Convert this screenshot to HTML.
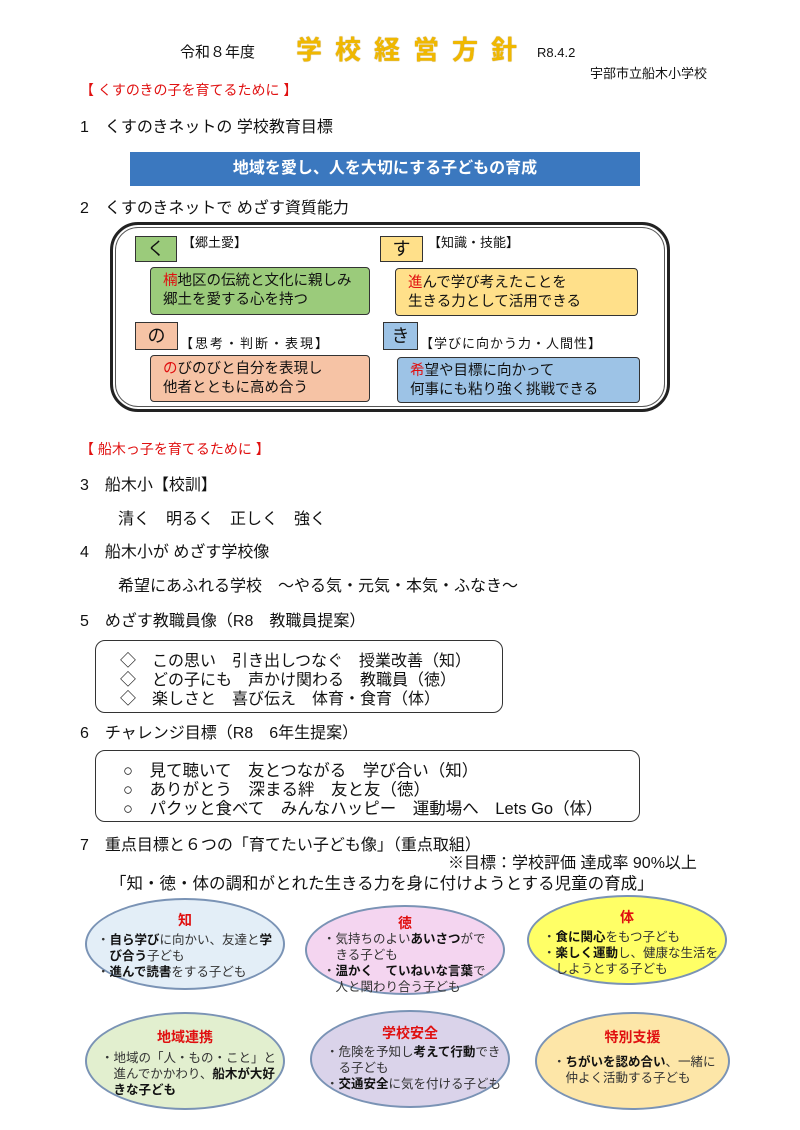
<!DOCTYPE html>
<html><head><meta charset="utf-8"><style>
body{margin:0;width:800px;height:1130px;background:#fff;position:relative;overflow:hidden;font-family:"Liberation Sans","Noto Sans CJK JP",sans-serif;color:#111}
.t{position:absolute;white-space:nowrap;line-height:1}
.h{font-size:16px}
.red{color:#e01010}
.box{position:absolute;box-sizing:border-box;border:1.5px solid #333}
.ell{position:absolute;box-sizing:border-box;border-radius:50%;border:2px solid #7a93b5}
.ell .tt{position:absolute;left:0;right:0;text-align:center;color:#e01010;font-weight:bold;font-size:14px}
.ell .bd{position:absolute;font-size:12.5px;line-height:16px;color:#333;white-space:nowrap}
b{color:#111}
</style></head><body>
<div class="t" style="left:180px;top:45px;font-size:15px">令和８年度</div>
<div class="t" style="left:296px;top:37px;font-size:26px;font-weight:bold;color:#f0b800;letter-spacing:13px;text-shadow:0 0 1px #a07000">学校経営方針</div>
<div class="t" style="left:537px;top:46px;font-size:13px">R8.4.2</div>
<div class="t" style="left:590px;top:67px;font-size:13px">宇部市立船木小学校</div>
<div class="t red" style="left:80px;top:83px;font-size:14px">【 くすのきの子を育てるために 】</div>
<div class="t h" style="left:80px;top:120px">1　くすのきネットの 学校教育目標</div>
<div style="position:absolute;left:130px;top:152px;width:510px;height:34px;background:#3b78bf;color:#fff;font-weight:bold;font-size:16px;text-align:center;line-height:34px">地域を愛し、人を大切にする子どもの育成</div>
<div class="t h" style="left:80px;top:201px">2　くすのきネットで めざす資質能力</div>
<div class="box" style="left:110px;top:222px;width:560px;height:190px;border:3px solid #222;border-radius:28px;box-shadow:inset 0 0 0 2px #fff,inset 0 0 0 3px #555"></div>

<div class="box" style="left:135px;top:236px;width:42px;height:26px;background:#9bcb7b;font-size:18px;text-align:center;line-height:24px">く</div>
<div class="t" style="left:182px;top:236px;font-size:13px">【郷土愛】</div>
<div class="box" style="left:150px;top:267px;width:220px;height:48px;background:#9bcb7b;border-radius:4px;font-size:14.5px;line-height:19px;padding:4px 0 0 12px"><span class="red">楠</span>地区の伝統と文化に親しみ<br>郷土を愛する心を持つ</div>

<div class="box" style="left:380px;top:236px;width:43px;height:26px;background:#ffe08a;font-size:18px;text-align:center;line-height:24px">す</div>
<div class="t" style="left:428px;top:236px;font-size:13px">【知識・技能】</div>
<div class="box" style="left:395px;top:268px;width:243px;height:48px;background:#ffe08a;border-radius:4px;font-size:14.5px;line-height:19px;padding:5px 0 0 12px"><span class="red">進</span>んで学び考えたことを<br>生きる力として活用できる</div>

<div class="box" style="left:135px;top:322px;width:43px;height:28px;background:#f6c3a5;font-size:18px;text-align:center;line-height:26px">の</div>
<div class="t" style="left:180px;top:337px;font-size:13px;letter-spacing:2px">【思考・判断・表現】</div>
<div class="box" style="left:150px;top:355px;width:220px;height:47px;background:#f6c3a5;border-radius:4px;font-size:14.5px;line-height:19px;padding:4px 0 0 12px"><span class="red">の</span>びのびと自分を表現し<br>他者とともに高め合う</div>

<div class="box" style="left:383px;top:322px;width:35px;height:28px;background:#9dc3e6;font-size:18px;text-align:center;line-height:26px">き</div>
<div class="t" style="left:420px;top:337px;font-size:13px;letter-spacing:1px">【学びに向かう力・人間性】</div>
<div class="box" style="left:397px;top:357px;width:243px;height:46px;background:#9dc3e6;border-radius:4px;font-size:14.5px;line-height:19px;padding:4px 0 0 12px"><span class="red">希</span>望や目標に向かって<br>何事にも粘り強く挑戦できる</div>

<div class="t red" style="left:80px;top:442px;font-size:14px">【 船木っ子を育てるために 】</div>
<div class="t h" style="left:80px;top:478px">3　船木小【校訓】</div>
<div class="t h" style="left:118px;top:512px">清く　明るく　正しく　強く</div>
<div class="t h" style="left:80px;top:545px">4　船木小が めざす学校像</div>
<div class="t h" style="left:118px;top:579px">希望にあふれる学校　～やる気・元気・本気・ふなき～</div>
<div class="t h" style="left:80px;top:614px">5　めざす教職員像（R8　教職員提案）</div>
<div class="box" style="left:95px;top:640px;width:408px;height:73px;border-radius:10px"></div>
<div class="t" style="left:120px;top:652px;line-height:19px;font-size:16px">◇　この思い　引き出しつなぐ　授業改善（知）<br>◇　どの子にも　声かけ関わる　教職員（徳）<br>◇　楽しさと　喜び伝え　体育・食育（体）</div>
<div class="t h" style="left:80px;top:726px">6　チャレンジ目標（R8　6年生提案）</div>
<div class="box" style="left:95px;top:750px;width:545px;height:72px;border-radius:10px"></div>
<div class="t" style="left:123px;top:762px;line-height:19px;font-size:16.5px">○　見て聴いて　友とつながる　学び合い（知）<br>○　ありがとう　深まる絆　友と友（徳）<br>○　パクッと食べて　みんなハッピー　運動場へ　Lets Go（体）</div>
<div class="t h" style="left:80px;top:838px">7　重点目標と６つの「育てたい子ども像」（重点取組）</div>
<div class="t h" style="left:448px;top:856px">※目標：学校評価 達成率 90%以上</div>
<div class="t" style="left:110px;top:876px;font-size:16.5px">「知・徳・体の調和がとれた生きる力を身に付けようとする児童の育成」</div>

<div class="ell" style="left:85px;top:898px;width:200px;height:92px;background:#e3eef7"><div class="tt" style="top:10px">知</div><div class="bd" style="left:10px;top:32px">・<b>自ら学び</b>に向かい、友達と<b>学</b><br>　<b>び合う</b>子ども<br>・<b>進んで読書</b>をする子ども</div></div>
<div class="ell" style="left:305px;top:905px;width:200px;height:90px;background:#f4d5f0"><div class="tt" style="top:6px">徳</div><div class="bd" style="left:16px;top:24px">・気持ちのよい<b>あいさつ</b>がで<br>　きる子ども<br>・<b>温かく　ていねいな言葉</b>で<br>　人と関わり合う子ども</div></div>
<div class="ell" style="left:527px;top:895px;width:200px;height:90px;background:#ffff66"><div class="tt" style="top:10px">体</div><div class="bd" style="left:14px;top:32px">・<b>食に関心</b>をもつ子ども<br>・<b>楽しく運動</b>し、健康な生活を<br>　しようとする子ども</div></div>
<div class="ell" style="left:85px;top:1012px;width:200px;height:98px;background:#e2efcf"><div class="tt" style="top:13px">地域連携</div><div class="bd" style="left:14px;top:36px">・地域の「人・もの・こと」と<br>　進んでかかわり、<b>船木が大好</b><br>　<b>きな子ども</b></div></div>
<div class="ell" style="left:310px;top:1010px;width:200px;height:98px;background:#dad3ea"><div class="tt" style="top:11px">学校安全</div><div class="bd" style="left:14px;top:32px">・危険を予知し<b>考えて行動</b>でき<br>　る子ども<br>・<b>交通安全</b>に気を付ける子ども</div></div>
<div class="ell" style="left:535px;top:1012px;width:195px;height:98px;background:#fde6a8"><div class="tt" style="top:13px">特別支援</div><div class="bd" style="left:16px;top:40px">・<b>ちがいを認め合い</b>、一緒に<br>　仲よく活動する子ども</div></div>
</body></html>
